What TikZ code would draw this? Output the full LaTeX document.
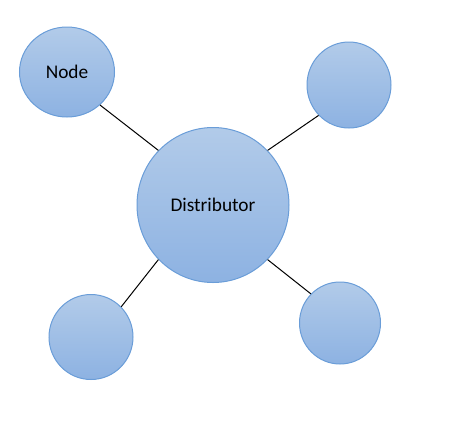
\documentclass[tikz,border=0pt]{standalone}
\usepackage{fontspec}
\setmainfont{Carlito}
\usepackage{xcolor}
\usetikzlibrary{shapes.geometric}
\definecolor{blueTop}{HTML}{B2CBE9}
\definecolor{blueBot}{HTML}{8DB2E2}
\definecolor{blueLine}{HTML}{6A9DD8}

\begin{document}
\begin{tikzpicture}[x=0.75pt,y=0.75pt,yscale=-1,xscale=1,
	bubble/.style={ellipse,draw=blueLine,line width=0.75pt,top color=blueTop,bottom color=blueBot,inner sep=0pt,font=\fontsize{14.5}{17}\selectfont}]
	\useasboundingbox (0,0) rectangle (472,426);
	\draw (67,72) node [bubble,minimum width=71.25pt,minimum height=67.5pt] (nodeA) {Node};
	\draw (349,85) node [bubble,minimum width=63pt,minimum height=64.5pt] (nodeB) {};
	\draw (213,205) node [bubble,minimum width=114pt,minimum height=116.25pt] (dist) {Distributor};
	\draw (91,337) node [bubble,minimum width=63pt,minimum height=63.75pt] (nodeC) {};
	\draw (340,323) node [bubble,minimum width=60.75pt,minimum height=61.5pt] (nodeD) {};
	\draw [line width=0.75pt] (nodeA.-45) -- (dist.135) ;
	\draw [line width=0.75pt] (nodeB.-135) -- (dist.45) ;
	\draw [line width=0.75pt] (nodeC.45) -- (dist.-135) ;
	\draw [line width=0.75pt] (nodeD.135) -- (dist.-45) ;
\end{tikzpicture}
\end{document}
